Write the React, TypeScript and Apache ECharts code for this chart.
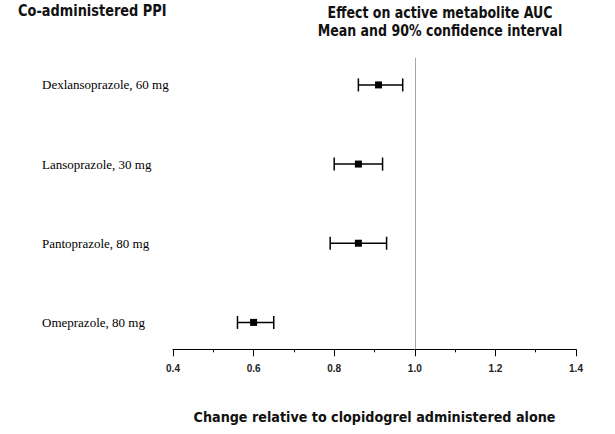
import React, { useEffect, useRef } from "react";
import * as echarts from "echarts";

const categories = [
  "Omeprazole, 80 mg",
  "Pantoprazole, 80 mg",
  "Lansoprazole, 30 mg",
  "Dexlansoprazole, 60 mg",
];
const means = [0.6, 0.86, 0.86, 0.91];
const lower = [0.56, 0.79, 0.8, 0.86];
const upper = [0.65, 0.93, 0.92, 0.97];
const referenceValue = 1.0;
const xTickLabels = ["0.4", "0.6", "0.8", "1.0", "1.2", "1.4"];

const titleFont = '"DejaVu Sans Condensed", "Liberation Sans Narrow", "Arial Narrow", sans-serif';

export default function App() {
  const ref = useRef<HTMLDivElement>(null);
  useEffect(() => {
    document.body.style.margin = "0";
    if (!ref.current) return;
    const chart = echarts.init(ref.current, null, { renderer: "svg" });
    const data = categories.map((_, i) => [i, means[i], lower[i], upper[i]]);
    chart.setOption({
      animation: false,
      backgroundColor: "#ffffff",
      grid: { left: 173, right: 39, top: 58, bottom: 84.7 },
      graphic: [
        {
          type: "text",
          x: 18,
          y: 3,
          scaleY: 1.12,
          style: {
            text: "Co-administered PPI",
            font: `bold 14.4px ${titleFont}`,
            fill: "#111",
            verticalAlign: "top",
          },
        },
        {
          type: "text",
          x: 440,
          y: 3,
          scaleY: 1.12,
          style: {
            text: "Effect on active metabolite AUC\nMean and 90% confidence interval",
            font: `bold 14px ${titleFont}`,
            fill: "#111",
            align: "center",
            verticalAlign: "top",
            lineHeight: 16.5,
          },
        },
      ],
      xAxis: {
        type: "value",
        min: 0.4,
        max: 1.4,
        interval: 0.2,
        name: "Change relative to clopidogrel administered alone",
        nameLocation: "middle",
        nameGap: 61,
        nameTextStyle: {
          fontFamily: titleFont,
          fontSize: 14.2,
          fontWeight: "bold",
          color: "#111",
        },
        axisLine: { show: true, onZero: false, lineStyle: { color: "#000", width: 1 } },
        axisTick: { show: true, length: 7, lineStyle: { color: "#000" } },
        minorTick: { show: true, splitNumber: 2, length: 3, lineStyle: { color: "#000" } },
        splitLine: { show: false },
        axisLabel: {
          margin: 14,
          fontFamily: '"Liberation Sans", Arial, sans-serif',
          fontWeight: "bold",
          fontSize: 10,
          color: "#222",
          formatter: (v: number) => {
            const s = v.toFixed(1);
            return xTickLabels.includes(s) ? s : "";
          },
        },
      },
      yAxis: {
        type: "value",
        min: -0.34,
        max: 3.34,
        axisLine: { show: false },
        axisTick: { show: false },
        splitLine: { show: false },
        axisLabel: {
          show: true,
          customValues: [0, 1, 2, 3],
          align: "left",
          margin: 131,
          fontFamily: '"Liberation Serif", "Times New Roman", serif',
          fontSize: 13,
          color: "#000",
          formatter: (v: number) => categories[Math.round(v)] ?? "",
        },
      },
      series: [
        {
          type: "custom",
          data,
          encode: { x: [1, 2, 3], y: 0 },
          renderItem: (params: any, api: any) => {
            const y = api.value(0);
            const m = api.coord([api.value(1), y]);
            const lo = api.coord([api.value(2), y]);
            const hi = api.coord([api.value(3), y]);
            const cap = 6.5;
            const sq = 7;
            const ls = { stroke: "#000", lineWidth: 1.5 };
            return {
              type: "group",
              children: [
                { type: "line", shape: { x1: lo[0], y1: lo[1], x2: hi[0], y2: hi[1] }, style: ls },
                { type: "line", shape: { x1: lo[0], y1: lo[1] - cap, x2: lo[0], y2: lo[1] + cap }, style: ls },
                { type: "line", shape: { x1: hi[0], y1: hi[1] - cap, x2: hi[0], y2: hi[1] + cap }, style: ls },
                {
                  type: "rect",
                  shape: { x: m[0] - sq / 2, y: m[1] - sq / 2, width: sq, height: sq },
                  style: { fill: "#000" },
                },
              ],
            };
          },
          markLine: {
            silent: true,
            symbol: ["none", "none"],
            label: { show: false },
            lineStyle: { color: "#a6a6a6", type: "solid", width: 1 },
            data: [{ xAxis: referenceValue }],
          },
        },
      ],
    });
    return () => chart.dispose();
  }, []);
  return <div ref={ref} style={{ width: 615, height: 434 }} />;
}
